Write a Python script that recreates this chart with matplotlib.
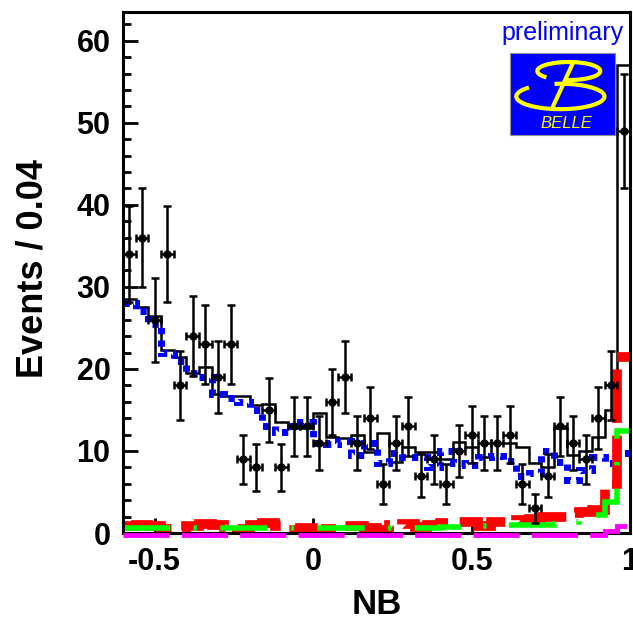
import numpy as np
import matplotlib.pyplot as plt
from matplotlib.patches import Arc
from matplotlib.ticker import MultipleLocator

plt.rcParams['font.family'] = ['Liberation Sans', 'DejaVu Sans']

# 40 bins of 0.04 in NB
edges = np.linspace(-0.6, 1.0, 41)
centers = 0.5 * (edges[:-1] + edges[1:])

# data (events per bin)
data = [34, 36, 26, 34, 18, 24, 23, 19, 23, 9,
        8, 15, 8, 13, 13, 11, 16, 19, 11, 14,
        6, 11, 13, 7, 9, 6, 10, 12, 11, 11,
        12, 6, 3, 7, 13, 11, 9, 14, 18, 49]

# total fit (black)
total = [28.5, 27.5, 26.5, 22.3, 21.5, 19.5, 20.2, 17.0, 16.7, 16.7,
         15.6, 15.7, 13.5, 12.8, 12.8, 14.6, 11.7, 11.6, 12.0, 9.9,
         12.2, 8.7, 10.5, 9.9, 9.9, 9.0, 11.1, 10.5, 9.3, 11.0,
         11.0, 10.5, 8.5, 8.1, 12.8, 9.5, 10.0, 11.7, 15.0, 57.0]

# background (blue dotted)
bkg = [28.0, 27.0, 25.5, 22.0, 21.0, 19.5, 19.0, 17.0, 16.5, 16.0,
       15.0, 13.0, 12.3, 13.0, 13.5, 11.0, 10.8, 11.2, 9.5, 11.0,
       8.5, 9.8, 9.3, 9.3, 8.0, 10.0, 8.5, 8.3, 9.3, 9.4,
       8.8, 7.0, 7.3, 10.0, 8.7, 6.5, 7.7, 9.3, 8.5, 9.8]

# red component
red = [0.9, 1.0, 0.8, 0.5, 0.3, 0.9, 1.1, 1.0, 0.7, 0.5,
       1.0, 1.2, 0.9, 0.4, 0.6, 0.3, 0.5, 0.9, 0.9, 0.6,
       0.4, 1.0, 1.1, 0.7, 1.0, 1.2, 1.3, 1.3, 0.9, 1.3,
       1.3, 1.6, 1.7, 1.9, 2.0, 2.4, 2.6, 2.8, 6.0, 21.5]

# green component
green = [0.6, 0.6, 0.6, 0.6, 0.6, 0.6, 0.6, 0.6, 0.6, 0.6,
         0.6, 0.6, 0.6, 0.6, 0.6, 0.6, 0.6, 0.6, 0.6, 0.6,
         0.6, 0.6, 0.6, 0.6, 0.6, 0.7, 0.7, 0.7, 0.8, 0.9,
         1.0, 1.0, 1.0, 1.0, 1.1, 1.3, 1.8, 2.2, 3.8, 12.4]

# magenta component
magenta = [-0.2] * 38 + [0.2, 0.9]

fig = plt.figure(figsize=(6.33, 6.2), dpi=100)
ax = fig.add_axes([0.1943, 0.1403, 0.801, 0.8403])

ax.stairs(total, edges, baseline=None, color='black', lw=1.8, zorder=3)
ax.stairs(bkg, edges, baseline=None, color='#0000ff', lw=5,
          linestyle=(0, (0.9, 0.9)), zorder=4)
ax.stairs(red, edges, baseline=None, color='#ff0000', lw=7,
          linestyle=(0, (5.5, 1.3)), zorder=5, clip_on=False)
ax.stairs(green, edges, baseline=None, color='#00ff00', lw=4,
          linestyle=(0, (8.5, 4.2, 0.6, 4.2)), zorder=6, clip_on=False)
ax.stairs(magenta, edges, baseline=None, color='#ff00ff', lw=3.5,
          linestyle=(0, (9.5, 2.5)), zorder=11, clip_on=False)

ax.errorbar(centers, data, xerr=0.02, yerr=np.sqrt(data), fmt='o',
            color='black', ms=5, elinewidth=1.8, capsize=3.2, capthick=1.8,
            zorder=8)

ax.set_xlim(-0.6, 1.0)
ax.set_ylim(0, 63.5)

ax.set_xticks([-0.5, 0, 0.5, 1])
ax.set_xticklabels(['-0.5', '0', '0.5', '1'])
ax.yaxis.set_major_locator(MultipleLocator(10))
ax.yaxis.set_minor_locator(MultipleLocator(2))
ax.tick_params(axis='both', which='both', direction='in', width=2.0,
               labelsize=22)
ax.tick_params(axis='both', which='major', length=11)
ax.tick_params(axis='y', which='minor', length=6)
ax.tick_params(axis='x', pad=10)
ax.tick_params(axis='y', pad=9)
for lab in ax.get_xticklabels() + ax.get_yticklabels():
    lab.set_fontweight('bold')
for sp in ax.spines.values():
    sp.set_linewidth(2.2)
    sp.set_zorder(10)

fig.text(33 / 633, 1 - 268 / 620, 'Events / 0.04', rotation=90,
         ha='center', va='center', fontsize=26, fontweight='bold')
fig.text(377 / 633, 1 - 604 / 620, 'NB', ha='center', va='center',
         fontsize=25, fontweight='bold')

fig.text(563 / 633, 1 - 33 / 620, 'preliminary', ha='center', va='center',
         fontsize=18, color='#0000ff')

# Belle logo
lax = fig.add_axes([510 / 633, 1 - 135 / 620, 105 / 633, 82 / 620])
lax.set_facecolor('#0000ff')
lax.set_xlim(0, 1)
lax.set_ylim(0, 1)
lax.set_xticks([])
lax.set_yticks([])
for sp in lax.spines.values():
    sp.set_color('#9090a0')
    sp.set_linewidth(0.8)
yel = '#ffff00'
lax.plot([0.60, 0.41], [0.88, 0.35], color=yel, lw=3, solid_capstyle='round')
lax.add_patch(Arc((0.56, 0.78), 0.6, 0.22, theta1=-110, theta2=200,
                  color=yel, lw=3))
lax.add_patch(Arc((0.48, 0.47), 0.84, 0.31, theta1=-200, theta2=110,
                  color=yel, lw=3))
lax.text(0.54, 0.14, 'BELLE', ha='center', va='center', fontsize=12,
         style='italic', color=yel)

fig.savefig('out.png', dpi=100)
